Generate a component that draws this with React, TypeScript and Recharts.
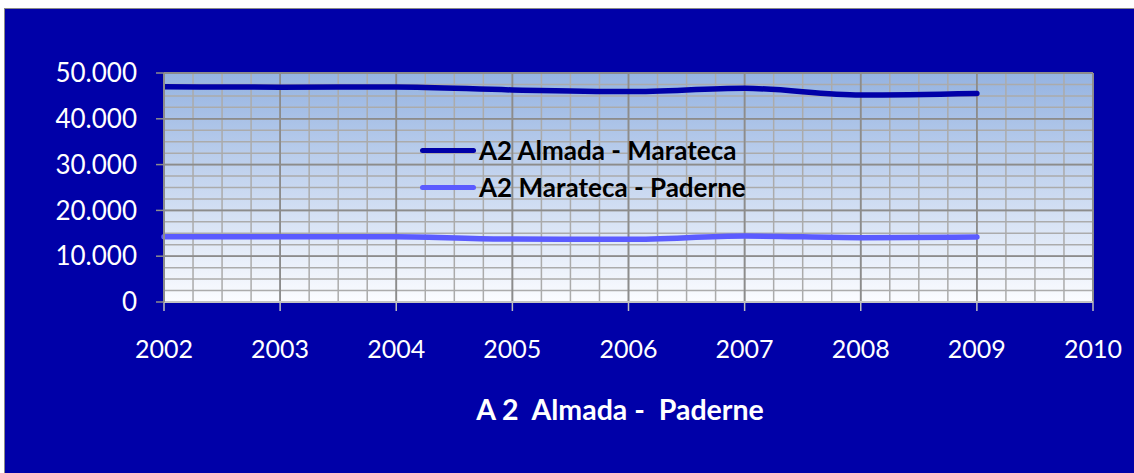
import React from 'react';
import { LineChart, Line, XAxis, YAxis, CartesianGrid, Legend } from 'recharts';

const years = [2002, 2003, 2004, 2005, 2006, 2007, 2008, 2009];
const almadaMarateca = [47000, 46900, 46950, 46300, 45950, 46650, 45200, 45550];
const maratecaPaderne = [14250, 14250, 14250, 13750, 13700, 14400, 14050, 14200];
const xTicks = [2002, 2003, 2004, 2005, 2006, 2007, 2008, 2009, 2010];
const yTicks = [0, 10000, 20000, 30000, 40000, 50000];
const seriesNames = ['A2 Almada - Marateca', 'A2 Marateca - Paderne'];
const titleText = 'A 2  Almada -  Paderne';

const xMinorTicks: number[] = [];
for (let y = 2002; y <= 2010; y += 0.25) xMinorTicks.push(y);
const yMinorTicks: number[] = [];
for (let v = 0; v <= 50000; v += 2500) yMinorTicks.push(v);

const data = years.map((year, i) => ({
  year,
  am: almadaMarateca[i],
  mp: maratecaPaderne[i],
}));

const FONT = 'Lato, "Open Sans", sans-serif';
const BG = '#0000A8';
const COLORS = ['#0000A8', '#5B5BFF'];

const fmt = (v: number) => (v === 0 ? '0' : `${Math.round(v / 1000)}.000`);

const minorHorizontal = (props: any) => {
  const axis = props && props.yAxis;
  if (axis && typeof axis.scale === 'function') {
    return yMinorTicks.map((v) => axis.scale(v));
  }
  const off = props.offset;
  return yMinorTicks.map((v) => off.top + off.height * (1 - v / 50000));
};

const LegendContent = () => (
  <div style={{ fontFamily: FONT }}>
    {seriesNames.map((n, i) => (
      <div key={n} style={{ display: 'flex', alignItems: 'center', height: 37 }}>
        <div
          style={{
            width: 56,
            height: 5,
            borderRadius: 3,
            background: COLORS[i],
            marginRight: 3,
          }}
        />
        <span style={{ fontWeight: 700, fontSize: 26, color: '#000', whiteSpace: 'pre', lineHeight: '37px' }}>{n}</span>
      </div>
    ))}
  </div>
);

export default function App() {
  return (
    <div style={{ position: 'absolute', left: 0, top: 0, width: 1134, height: 473, background: '#fff', overflow: 'hidden' }}>
      <div
        style={{
          position: 'absolute',
          left: 4,
          top: 8,
          width: 1130,
          height: 465,
          background: BG,
          borderLeft: '1.5px solid #8a8a8a',
          borderTop: '1.5px solid #8a8a8a',
          boxSizing: 'border-box',
        }}
      />
      <div style={{ position: 'absolute', left: 0, top: 0 }}>
        <LineChart
          width={1134}
          height={473}
          data={data}
          margin={{ top: 73, right: 41, bottom: 111, left: 104 }}
        >
          <defs>
            <linearGradient id="plotGrad" x1="0" y1="0" x2="0" y2="1">
              <stop offset="0%" stopColor="#95B3E1" />
              <stop offset="100%" stopColor="#FBFCFF" />
            </linearGradient>
          </defs>
          <XAxis xAxisId="minor" dataKey="year" type="number" domain={[2002, 2010]} ticks={xMinorTicks} interval={0} hide />
          <YAxis yAxisId="minor" type="number" domain={[0, 50000]} ticks={yMinorTicks} interval={0} hide />
          <CartesianGrid
            xAxisId="minor"
            yAxisId="minor"
            fill="url(#plotGrad)"
            fillOpacity={1}
            stroke="#ABABAB"
            strokeWidth={1.5}
            horizontalCoordinatesGenerator={minorHorizontal}
          />
          <CartesianGrid stroke="#8C8C8C" strokeWidth={1.8} />
          <XAxis
            dataKey="year"
            type="number"
            domain={[2002, 2010]}
            ticks={xTicks}
            height={60}
            tickSize={9}
            tickMargin={29}
            stroke="#BDBDBD"
            axisLine={{ stroke: '#C4C4C4', strokeWidth: 2 }}
            tickLine={{ stroke: '#BDBDBD', strokeWidth: 1.5 }}
            tick={{ fill: '#fff', fontSize: 25, fontFamily: FONT }}
            interval={0}
          />
          <YAxis
            type="number"
            domain={[0, 50000]}
            ticks={yTicks}
            width={60}
            tickSize={8}
            tickMargin={19}
            tickFormatter={fmt}
            axisLine={{ stroke: '#8C8C8C', strokeWidth: 2 }}
            tickLine={{ stroke: '#8C8C8C', strokeWidth: 1.5 }}
            tick={{ fill: '#fff', fontSize: 26, fontFamily: FONT }}
            interval={0}
          />
          <Legend
            layout="vertical"
            align="center"
            verticalAlign="middle"
            content={LegendContent}
            wrapperStyle={{ position: 'absolute', left: 420, top: 132, width: 'auto', height: 'auto' }}
          />
          <Line
            type="monotone"
            dataKey="am"
            name={seriesNames[0]}
            stroke={COLORS[0]}
            strokeWidth={5.5}
            dot={false}
            strokeLinecap="round"
            isAnimationActive={false}
          />
          <Line
            type="monotone"
            dataKey="mp"
            name={seriesNames[1]}
            stroke={COLORS[1]}
            strokeWidth={5.5}
            dot={false}
            strokeLinecap="round"
            isAnimationActive={false}
          />
        </LineChart>
      </div>
      <div
        style={{
          position: 'absolute',
          left: 370,
          width: 500,
          top: 392,
          textAlign: 'center',
          color: '#fff',
          fontFamily: FONT,
          fontWeight: 700,
          fontSize: 28.5,
          whiteSpace: 'pre',
        }}
      >
        {titleText}
      </div>
    </div>
  );
}
